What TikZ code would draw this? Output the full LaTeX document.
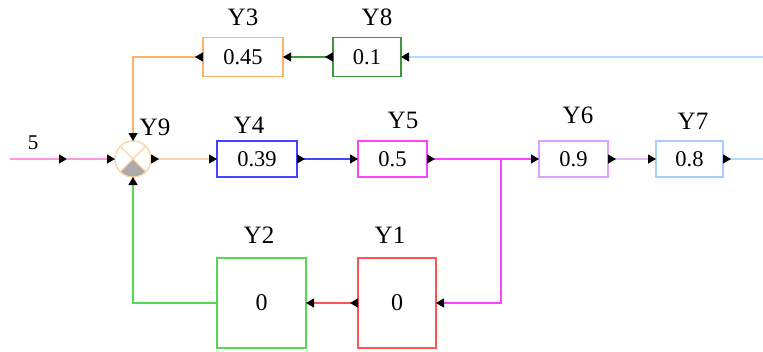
\documentclass[tikz,border=0pt]{standalone}
\usepackage{fontspec}
\setmainfont{Liberation Serif}
\usetikzlibrary{arrows.meta}
\definecolor{corange}{HTML}{FFB366}
\definecolor{csum}{HTML}{FFD3A8}
\definecolor{cgreen}{HTML}{3C9A3C}
\definecolor{clblue}{HTML}{B3D9FF}
\definecolor{cboxblue}{HTML}{A6CFFF}
\definecolor{cblue}{HTML}{4444FF}
\definecolor{cmag}{HTML}{FF44FF}
\definecolor{cpurple}{HTML}{DDA0FF}
\definecolor{cpurpleline}{HTML}{E6B8FF}
\definecolor{cred}{HTML}{FF5555}
\definecolor{clgreen}{HTML}{55D955}
\definecolor{cpink}{HTML}{FF99DD}
\definecolor{cgray}{HTML}{AAAAAA}
\begin{document}
\begin{tikzpicture}[x=1bp,y=1bp,
  blk/.style={draw, line width=1.3bp, minimum width=#1, inner sep=0pt, outer sep=0pt,
    fill=white, font=\fontsize{22.5bp}{26bp}\selectfont},
  zero/.style={font=\fontsize{24bp}{28bp}\selectfont},
  lbl/.style={inner sep=0pt, font=\fontsize{25bp}{30bp}\selectfont},
  ln/.style={line width=1.2bp},
  arr/.style={-{Triangle[length=8bp,width=9bp,color=black]}},
  arr2/.style={{Triangle[reversed,length=8bp,width=9bp,color=black]}-{Triangle[length=8bp,width=9bp,color=black]}},
  outarr/.style={{Triangle[reversed,length=8bp,width=9bp,color=black]}-},
  sumc/.style={circle, draw=csum, line width=1.1bp, fill=white, minimum size=36bp, inner sep=0pt, outer sep=0pt}
]
\useasboundingbox (0,0) rectangle (763,351);

% blocks
\node[blk=80bp, minimum height=39bp, draw=corange] (y3) at (243,294) {0.45};
\node[blk=68bp, minimum height=39bp, draw=cgreen] (y8) at (367,294) {0.1};
\node[blk=80bp, minimum height=36bp, draw=cblue] (y4) at (257,192) {0.39};
\node[blk=69bp, minimum height=36bp, draw=cmag] (y5) at (392.5,192) {0.5};
\node[blk=69bp, minimum height=36bp, draw=cpurple] (y6) at (573.5,192) {0.9};
\node[blk=67bp, minimum height=36bp, draw=cboxblue] (y7) at (689.5,192) {0.8};
\node[blk=78bp, minimum height=90bp, draw=cred, zero] (y1) at (397,48) {0};
\node[blk=89bp, minimum height=90bp, draw=clgreen, zero] (y2) at (261.5,48) {0};

% summing junction
\node[sumc] (sum) at (133,192) {};
\fill[cgray] (sum.center) -- (sum.-45) arc[start angle=-45, end angle=-135, radius=18bp] -- cycle;
\draw[csum, line width=1.1bp] (sum.45) -- (sum.-135) (sum.135) -- (sum.-45);
\draw[csum, line width=1.1bp] (sum.center) circle[radius=18bp];

% labels
\node[lbl] (ly3) at (243,334) {Y3};
\node[lbl] (ly8) at (377,334) {Y8};
\node[lbl] (ly9) at (155,224) {Y9};
\node[lbl] (ly4) at (249,226) {Y4};
\node[lbl] (ly5) at (403,231) {Y5};
\node[lbl] (ly6) at (578,236) {Y6};
\node[lbl] (ly7) at (693,230) {Y7};
\node[lbl] (ly2) at (259,116) {Y2};
\node[lbl] (ly1) at (390,116) {Y1};
\node[inner sep=0pt, font=\fontsize{21bp}{24bp}\selectfont] (l5) at (33,208) {5};

% connectors
\coordinate (rin) at (763,294);
\draw[ln, clblue, arr] (rin) -- (y8.east);
\draw[ln, cgreen, arr2] (y8.west) -- (y3.east);
\draw[ln, corange, arr2] (y3.west) -| (sum.north);
\coordinate (src) at (10,192);
\coordinate (m) at (67,192);
\draw[ln, cpink, arr] (src) -- (m);
\draw[ln, cpink, arr] (m) -- (sum.west);
\draw[ln, csum, arr2] (sum.east) -- (y4.west);
\draw[ln, cblue, arr2] (y4.east) -- (y5.west);
\coordinate (br) at (501,192);
\draw[ln, cmag, arr2] (y5.east) -- (y6.west);
\draw[ln, cmag, arr] (br) |- (y1.east);
\draw[ln, cpurpleline, arr2] (y6.east) -- (y7.west);
\coordinate (out) at (763,192);
\draw[ln, clblue, outarr] (y7.east) -- (out);
\draw[ln, cred, arr2] (y1.west) -- (y2.east);
\draw[ln, clgreen, arr] (y2.west) -| (sum.south);
\end{tikzpicture}
\end{document}
